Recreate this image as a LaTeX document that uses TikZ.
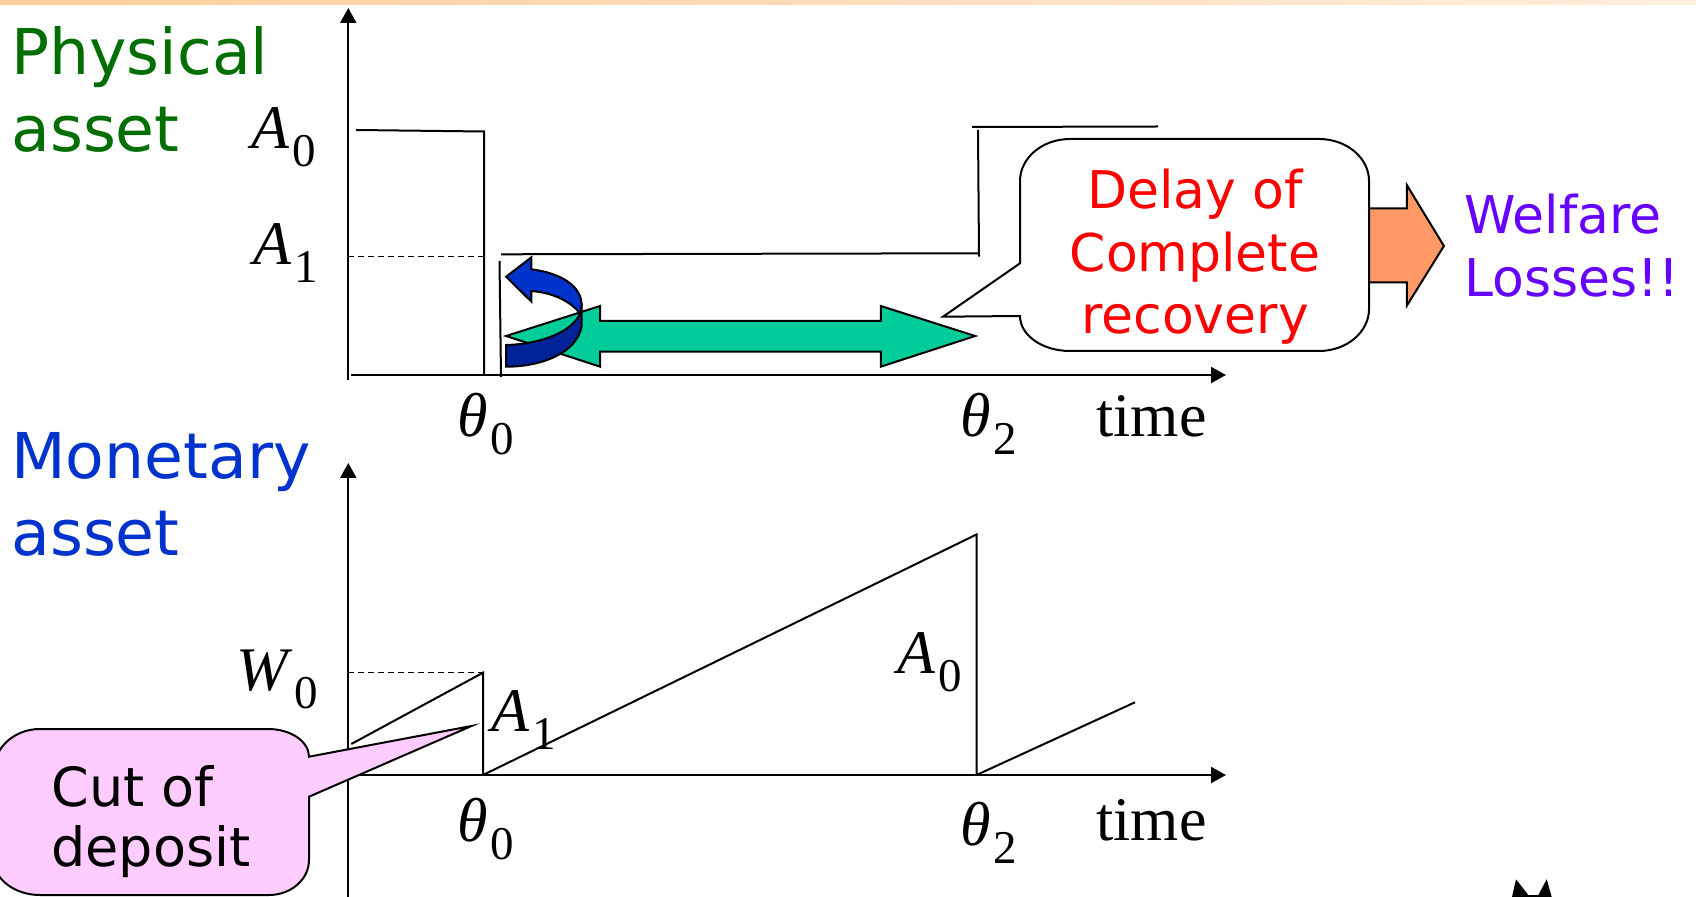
\documentclass[tikz,border=0pt]{standalone}
\usepackage{fontspec}
\usetikzlibrary{arrows.meta}
\newfontfamily\sansf{DejaVu Sans}
\newfontfamily\serf{Liberation Serif}
\definecolor{txtgreen}{RGB}{0,110,0}
\definecolor{txtblue}{RGB}{0,51,204}
\definecolor{txtred}{RGB}{255,0,0}
\definecolor{txtpurple}{RGB}{102,0,255}
\definecolor{arrorange}{RGB}{255,153,102}
\definecolor{callpink}{RGB}{255,204,255}
\definecolor{arrgreen}{RGB}{0,204,153}
\definecolor{arrblue}{RGB}{0,51,204}
\definecolor{arrdblue}{RGB}{0,34,153}
\definecolor{bandL}{RGB}{255,205,155}
\definecolor{bandR}{RGB}{255,238,220}
\newcommand{\mlab}[2]{{\serf\itshape #1}\kern1.5pt\raisebox{-9pt}{\fontsize{23.5}{23.5}\selectfont\serf #2}}
\tikzset{
  ln/.style={line width=1pt},
  axisline/.style={line width=1pt,-{Triangle[length=7.5pt,width=8pt]}},
  dsh/.style={line width=0.7pt,dash pattern=on 3pt off 2pt},
  lbl/.style={anchor=base west,inner sep=0pt},
  mathlbl/.style={lbl,font=\fontsize{31}{31}\selectfont},
  bigtxt/.style={lbl,font=\sansf\fontsize{31.6}{31.6}\selectfont},
  midtxt/.style={anchor=base,inner sep=0pt,font=\sansf\fontsize{26}{26}\selectfont},
  shapeout/.style={draw=black,line width=1pt,line join=miter},
}
\begin{document}
\begin{tikzpicture}[x=0.5pt,y=-0.5pt]
\useasboundingbox (0,0) rectangle (1696,897);
\clip (0,0) rectangle (1696,897);
\fill[white] (0,0) rectangle (1696,897);
\shade[left color=bandL,right color=bandR] (0,0) rectangle (1696,5);

% ---------- headings ----------
\node[bigtxt,text=txtgreen] (ph1) at (11,75) {Physical};
\node[bigtxt,text=txtgreen] (ph2) at (11,152) {asset};
\node[bigtxt,text=txtblue] (mo1) at (11,479) {Monetary};
\node[bigtxt,text=txtblue] (mo2) at (11,555) {asset};

% ---------- top chart ----------
\coordinate (tYb) at (348.3,380);
\coordinate (tYt) at (348.3,8);
\coordinate (tXl) at (351,375);
\coordinate (tXr) at (1226,375);
\draw[axisline] (tYb) -- (tYt);
\draw[axisline] (tXl) -- (tXr);

\coordinate (a0l) at (356,130);
\coordinate (a0r) at (484,131.5);
\coordinate (a0b) at (484,375);
\draw[ln] (a0l) -- (a0r) -- (a0b);
\coordinate (a1dl) at (348.3,256.7);
\coordinate (a1dr) at (484,256.7);
\draw[dsh] (a1dl) -- (a1dr);
\coordinate (v2t) at (499.5,261);
\coordinate (v2b) at (501,377);
\draw[ln] (v2t) -- (v2b);
\coordinate (h1l) at (501,254.3);
\coordinate (h1r) at (979,253.3);
\coordinate (h1t) at (978,130);
\draw[ln] (h1l) -- (h1r);
\draw[ln] (979,256.7) -- (h1t);
\coordinate (h2l) at (972,127);
\coordinate (h2r) at (1158,126.5);
\draw[ln] (h2l) -- (h2r);

\node[mathlbl] (tA0) at (251,148.3) {\mlab{A}{0}};
\node[mathlbl] (tA1) at (253,265) {\mlab{A}{1}};
\node[mathlbl] (tT0) at (457,436.7) {\mlab{θ}{0}};
\node[mathlbl] (tT2) at (960,436.7) {\mlab{θ}{2}};
\node[lbl,font=\serf\fontsize{31}{31}\selectfont] (tTime) at (1096,436.7) {time};

% green double arrow
\filldraw[fill=arrgreen,shapeout] (506.1,336) -- (600.1,306) -- (600.1,321) -- (880.8,321)
  -- (880.8,306) -- (975.2,336) -- (880.8,366.7) -- (880.8,351.7) -- (600.1,351.7)
  -- (600.1,366.7) -- cycle;
% blue U-turn arrow
\filldraw[fill=arrdblue,shapeout] (506.1,345) .. controls (544.7,344) and (572.8,330) .. (579.8,314)
  -- (581.6,303.3) -- (581.6,326.7) .. controls (576.3,353.3) and (541.2,366.7) .. (506.1,366.7) -- cycle;
\filldraw[fill=arrblue,shapeout] (531.4,269.3) .. controls (562.3,273.3) and (581.6,286.7) .. (581.6,305)
  -- (580.5,314) .. controls (569.3,300) and (551.7,292.7) .. (531.4,291)
  -- (531.4,301.7) -- (506.1,276.7) -- (531.4,257.3) -- cycle;

% orange arrow and callout
\filldraw[fill=arrorange,shapeout] (1365,208.3) -- (1406.8,208.3) -- (1406.8,185) -- (1443.9,246)
  -- (1406.8,305.7) -- (1406.8,282.3) -- (1365,282.3) -- cycle;
\filldraw[fill=white,draw=black,line width=1pt] (1070,139) -- (1319,139)
  .. controls (1346.6,139) and (1369,157.8) .. (1369,181) -- (1369,309)
  .. controls (1369,332.2) and (1346.6,351) .. (1319,351) -- (1070,351)
  .. controls (1042.4,351) and (1020,335.3) .. (1020,316)
  -- (943,316.7) -- (1020,263.3) -- (1020,181)
  .. controls (1020,157.8) and (1042.4,139) .. (1070,139) -- cycle;
\node[midtxt,text=txtred] (dl1) at (1195,208.3) {Delay of};
\node[midtxt,text=txtred] (dl2) at (1195,271.7) {Complete};
\node[midtxt,text=txtred] (dl3) at (1195,333.3) {recovery};
\node[lbl,font=\sansf\fontsize{26}{26}\selectfont,text=txtpurple] (wl1) at (1464,233.3) {Welfare};
\node[lbl,font=\sansf\fontsize{26}{26}\selectfont,text=txtpurple] (wl2) at (1464,296.7) {Losses!!};

% ---------- bottom chart ----------
\coordinate (bYb) at (348.3,900);
\coordinate (bYt) at (348.3,463);
\coordinate (bXl) at (348.3,775);
\coordinate (bXr) at (1226,775);
\draw[axisline] (bYb) -- (bYt);
\draw[axisline] (bXl) -- (bXr);

\coordinate (w0dl) at (348.3,672.7);
\coordinate (w0dr) at (483,672.7);
\draw[dsh] (w0dl) -- (w0dr);
\coordinate (s1a) at (351.3,744);
\coordinate (s1b) at (483,672.7);
\coordinate (s1c) at (483,775);
\draw[ln] (s1a) -- (s1b) -- (s1c);
\coordinate (s2b) at (976.5,534.5);
\coordinate (s2c) at (976.5,775);
\draw[ln] (s1c) -- (s2b) -- (s2c);
\coordinate (s3b) at (1135,702.3);
\draw[ln] (s2c) -- (s3b);

\node[mathlbl] (bW0) at (236,690) {{\serf\itshape W}\kern3pt\raisebox{-9pt}{\fontsize{23.5}{23.5}\selectfont\serf 0}};
\node[mathlbl] (bA1) at (491,731.7) {\mlab{A}{1}};
\node[mathlbl] (bA0) at (897,673.3) {\mlab{A}{0}};
\node[mathlbl] (bT0) at (457,841.7) {\mlab{θ}{0}};
\node[mathlbl] (bT2) at (960,845) {\mlab{θ}{2}};
\node[lbl,font=\serf\fontsize{31}{31}\selectfont] (bTime) at (1096,840) {time};

% pink callout
\filldraw[fill=callpink,draw=black,line width=1pt] (268,729)
  .. controls (290.6,729) and (309,741.4) .. (309,756.7)
  -- (471.5,726) -- (309,796.7) -- (309,860)
  .. controls (309,879.3) and (291.1,895) .. (269,895) -- (40,895)
  .. controls (14.6,895) and (-6,879.3) .. (-6,860) -- (-6,770)
  .. controls (-6,747.4) and (14.6,729) .. (40,729) -- cycle;
\node[lbl,font=\sansf\fontsize{27}{27}\selectfont] (cd1) at (51,806.7) {Cut of};
\node[lbl,font=\sansf\fontsize{27}{27}\selectfont] (cd2) at (51,866.7) {deposit};

% corner mark
\fill[black] (1512,897) -- (1516,879.3) -- (1528.3,895) -- (1538.3,895) -- (1546.7,879.3) -- (1551.7,897) -- cycle;
\end{tikzpicture}
\end{document}
